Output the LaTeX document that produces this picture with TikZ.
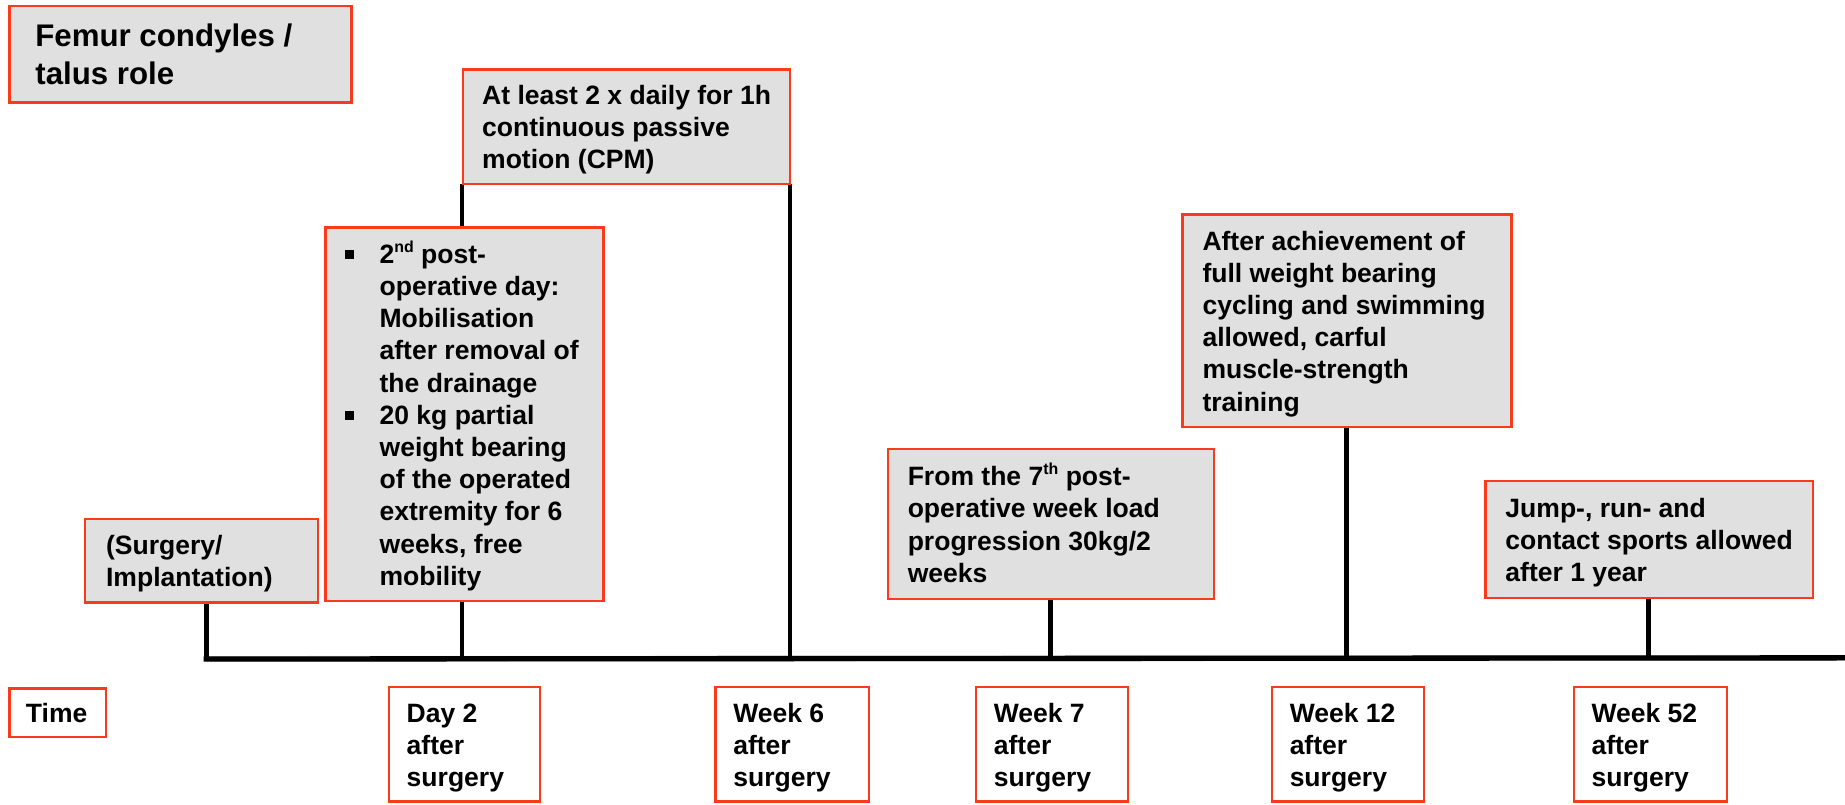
\documentclass[tikz,border=0pt]{standalone}
\usepackage{fontspec}
\setmainfont{Liberation Sans}
\definecolor{bred}{RGB}{250,58,28}
\definecolor{boxgray}{RGB}{224,224,224}
\pgfdeclarelayer{bg}
\pgfsetlayers{bg,main}
\newcommand\supx[1]{\raisebox{0.42em}[0pt][0pt]{\fontsize{13.5}{13.5}\selectfont #1}}
\newcommand\sqbul{\rule[4pt]{7pt}{7pt}}
\newcommand\bitem{\makebox[29pt][l]{\sqbul}}
\newcommand\bcont{\hspace*{29pt}}
\newcommand\tb[2]{\raisebox{-3pt}[\height][\depth]{\makebox[#1pt][l]{\begin{tabular}{@{}l@{}}#2\end{tabular}}}}
\begin{document}
\begin{tikzpicture}[x=1pt,y=-1pt,
  txt/.style={font=\bfseries\fontsize{22.5}{27.3}\selectfont},
  graybox/.style={txt, draw=bred, fill=boxgray, line width=2pt, anchor=north west, inner ysep=0pt, outer sep=0pt},
  whitebox/.style={graybox, fill=white},
  stem/.style={line width=4pt, black},
  shade/.style={line width=5pt, black!18, shift={(1.5pt,-2.5pt)}}
]
\useasboundingbox (0,0) rectangle (1565,682);

% upper boxes
\node[graybox, inner xsep=22pt, minimum height=82pt, font=\bfseries\fontsize{26.5}{32}\selectfont] (title) at (8,5) {\tb{246}{Femur condyles /\\talus role}};
\node[graybox, inner xsep=16pt, minimum height=97pt] (cpm) at (393,59) {\tb{245}{At least 2 x daily for 1h\\continuous passive\\motion (CPM)}};
\node[graybox, inner xsep=17pt, minimum height=317pt] (b2) at (276,193) {\tb{202}{\bitem 2\supx{nd} post-\\\bcont operative day:\\\bcont Mobilisation\\\bcont after removal of\\\bcont the drainage\\\bitem 20 kg partial\\\bcont weight bearing\\\bcont of the operated\\\bcont extremity for 6\\\bcont weeks, free\\\bcont mobility}};
\node[graybox, inner xsep=18pt, minimum height=71pt] (surg) at (72,440) {\tb{162}{(Surgery/\\Implantation)}};
\node[graybox, inner xsep=17pt, minimum height=127pt] (w7t) at (753,381) {\tb{243}{From the 7\supx{th} post-\\operative week load\\progression 30kg/2\\weeks}};
\node[graybox, inner xsep=17pt, minimum height=180pt] (w12t) at (1003,182) {\tb{245}{After achievement of\\full weight bearing\\cycling and swimming\\allowed, carful\\muscle-strength\\training}};
\node[graybox, inner xsep=17pt, minimum height=99pt] (w52t) at (1260,408) {\tb{244}{Jump-, run- and\\contact sports allowed\\after 1 year}};

% lower boxes
\node[whitebox, inner xsep=14pt, minimum height=41pt] (time) at (8,584) {\tb{54}{Time}};
\node[whitebox, inner xsep=15pt, minimum height=97pt] (d2) at (330,583) {\tb{98}{Day 2\\after\\surgery}};
\node[whitebox, inner xsep=15pt, minimum height=97pt] (w6) at (607,583) {\tb{100}{Week 6\\after\\surgery}};
\node[whitebox, inner xsep=15pt, minimum height=97pt] (w7) at (828,583) {\tb{99}{Week 7\\after\\surgery}};
\node[whitebox, inner xsep=15pt, minimum height=97pt] (w12) at (1079,583) {\tb{99}{Week 12\\after\\surgery}};
\node[whitebox, inner xsep=15pt, minimum height=97pt] (w52) at (1335,583) {\tb{100}{Week 52\\after\\surgery}};

% timeline points
\coordinate (p0) at (175,559);
\coordinate (pd2) at (392,559);
\coordinate (pw6) at (670,559);
\coordinate (pw7) at (891,559);
\coordinate (pw12) at (1142,559);
\coordinate (pw52) at (1398,559);
\coordinate (tend) at (1565,558);

\begin{pgfonlayer}{bg}
  \draw[shade] (p0) -- (tend);
  \draw[stem] (surg.south -| p0) -- (p0);
  \draw[stem] (cpm.south -| pd2) -- (pd2);
  \draw[stem] (cpm.south -| pw6) -- (pw6);
  \draw[stem] (w7t.south -| pw7) -- (pw7);
  \draw[stem] (w12t.south -| pw12) -- (pw12);
  \draw[stem] (w52t.south -| pw52) -- (pw52);
  \draw[stem, line width=4.5pt, line cap=rect] (p0) -- (tend);
\end{pgfonlayer}
\end{tikzpicture}
\end{document}
